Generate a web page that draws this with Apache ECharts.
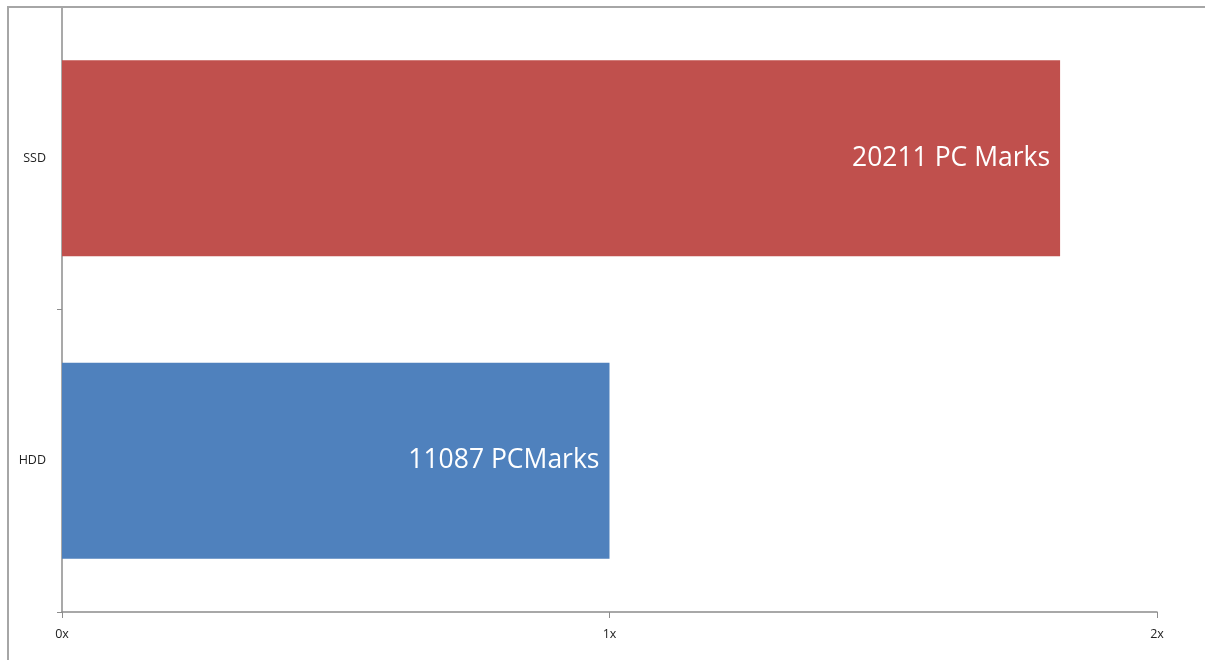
<!DOCTYPE html>
<html>
<head>
<meta charset="utf-8">
<script src="https://cdn.jsdelivr.net/npm/echarts@6/dist/echarts.min.js"></script>
<style>
  html, body { margin: 0; padding: 0; background: #fff; }
  #main { width: 1205px; height: 660px; position: relative; }
  .frame { position: absolute; left: 7px; top: 6px; right: -2px; bottom: -2px;
           border-left: 2px solid #a6a6a6; border-top: 2px solid #a6a6a6; pointer-events: none; }
</style>
</head>
<body>
<div id="main"></div>
<div class="frame"></div>
<script>
  // categories, bottom to top
  const categories = ['HDD', 'SSD']
  // speed relative to HDD (11087 = 1x)
  const ratios = [1, 1.823]
  const barLabels = ['11087 PCMarks', '20211 PC Marks']
  const barColors = ['#4F81BD', '#C0504D']
  const xTicks = [0, 1, 2]

  const myChart = echarts.init(document.getElementById('main'))

  const option = {
    animation: false,
    grid: { left: 62, right: 48, top: 7, bottom: 48 },
    xAxis: {
      type: 'value',
      min: xTicks[0],
      max: xTicks[xTicks.length - 1],
      interval: 1,
      axisLine: { show: true, lineStyle: { color: '#8c8c8c', width: 1.5 } },
      axisTick: { show: true, length: 6, lineStyle: { color: '#8c8c8c' } },
      axisLabel: {
        formatter: '{value}x', margin: 16,
        color: '#222', fontSize: 12.5, fontFamily: 'Open Sans'
      },
      splitLine: { show: false }
    },
    yAxis: {
      type: 'category',
      data: categories,
      axisLine: { show: true, lineStyle: { color: '#8c8c8c', width: 1.5 } },
      axisTick: { show: true, length: 5, lineStyle: { color: '#8c8c8c' } },
      axisLabel: { margin: 16, color: '#222', fontSize: 12.5, fontFamily: 'Open Sans' }
    },
    series: [{
      type: 'bar',
      barWidth: 196,
      data: ratios.map((v, i) => ({
        value: v,
        itemStyle: { color: barColors[i] },
        label: { formatter: barLabels[i] }
      })),
      label: {
        show: true,
        position: 'insideRight',
        distance: 10,
        color: '#fff',
        fontSize: 26.5,
        fontFamily: 'Open Sans'
      }
    }]
  }
  myChart.setOption(option)
</script>
</body>
</html>
